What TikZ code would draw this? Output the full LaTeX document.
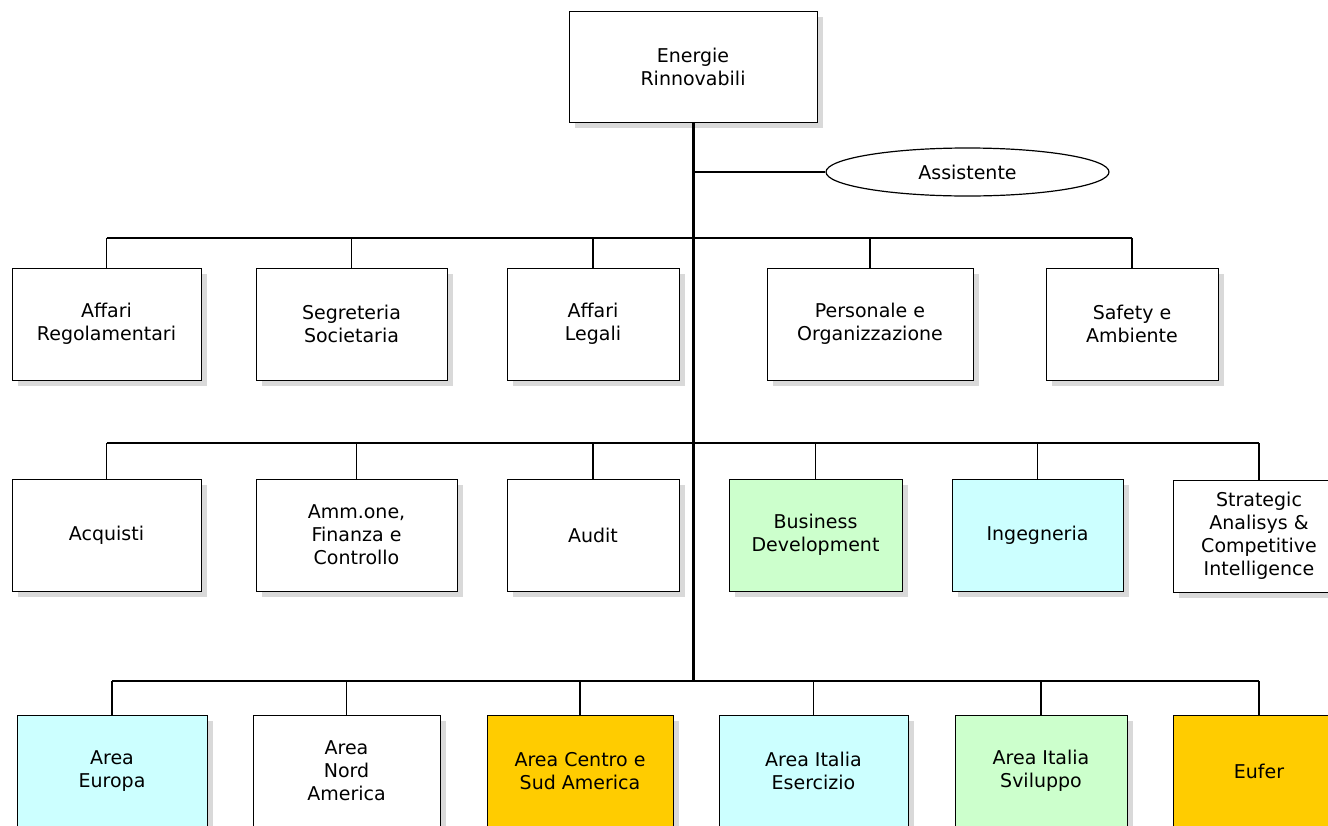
\documentclass[tikz,border=0pt]{standalone}
\usepackage{fontspec}
\setmainfont{DejaVu Sans}
\usepackage{tikz}
\usetikzlibrary{shadows,shapes.geometric}
\definecolor{celeste}{HTML}{CCFFFF}
\definecolor{verdino}{HTML}{CCFFCC}
\definecolor{arancio}{HTML}{FFCC00}
\definecolor{ombra}{HTML}{D9D9D9}

\begin{document}
\begin{tikzpicture}[x=1pt,y=-1pt,
	unit/.style={draw, line width=1pt, fill=white, minimum height=112pt, align=center, inner sep=2pt,
		font=\fontsize{19}{23}\selectfont,
		drop shadow={shadow xshift=6pt, shadow yshift=-6pt, fill=ombra, opacity=1}},
	trunk/.style={line width=3pt},
	bus/.style={line width=1.6pt},
	link/.style={line width=1.2pt}]
	\clip (0,0) rectangle (1328,825);
	\fill[white] (0,0) rectangle (1328,825);
	% vertice
	\node[unit, minimum width=248pt, minimum height=111pt] (ER) at (693,66.5) {Energie\\Rinnovabili};
	\node[ellipse, draw, line width=1.2pt, fill=white, minimum width=283pt, minimum height=48pt,
		font=\fontsize{19}{23}\selectfont] (AS) at (967.5,172) {Assistente};
	% staff
	\node[unit, minimum width=189pt] (AR) at (106.5,324) {Affari\\Regolamentari};
	\node[unit, minimum width=191pt] (SS) at (351.5,324) {Segreteria\\Societaria};
	\node[unit, minimum width=172pt] (AL) at (593,324) {Affari\\Legali};
	\node[unit, minimum width=206pt] (PO) at (870,324) {Personale e\\Organizzazione};
	\node[unit, minimum width=172pt] (SA) at (1132,324) {Safety e\\Ambiente};
	% funzioni
	\node[unit, minimum width=189pt] (ACQ) at (106.5,535) {Acquisti};
	\node[unit, minimum width=201pt] (AFC) at (356.5,535) {Amm.one,\\Finanza e\\Controllo};
	\node[unit, minimum width=172pt] (AUD) at (593,535) {Audit};
	\node[unit, minimum width=173pt, fill=verdino] (BD) at (815.5,535) {Business\\Development};
	\node[unit, minimum width=171pt, fill=celeste] (ING) at (1037.5,535) {Ingegneria};
	\node[unit, minimum width=172pt] (SCI) at (1259,536) {Strategic\\Analisys \&\\Competitive\\Intelligence};
	% aree
	\node[unit, minimum width=190pt, fill=celeste] (EU) at (112,771) {Area\\Europa};
	\node[unit, minimum width=187pt] (NA) at (346.5,771) {Area\\Nord\\America};
	\node[unit, minimum width=186pt, fill=arancio] (CSA) at (580,771) {Area Centro e\\Sud America};
	\node[unit, minimum width=189pt, fill=celeste] (IE) at (813.5,771) {Area Italia\\Esercizio};
	\node[unit, minimum width=172pt, fill=verdino] (IS) at (1041,771) {Area Italia\\Sviluppo};
	\node[unit, minimum width=172pt, fill=arancio] (EUF) at (1259,771) {Eufer};

	\coordinate (B1) at (693,238);
	\coordinate (B2) at (693,443);
	\coordinate (B3) at (693,681);

	\draw[trunk] (ER.south) -- (B3);
	\draw[link] (ER.south |- AS) -- (AS.west);

	\draw[bus] (AR.north |- B1) -- (SA.north |- B1);
	\foreach \n in {AR,SS,AL,PO,SA}
		\draw[link] (\n.north) -- (\n.north |- B1);
	\draw[bus] (ACQ.north |- B2) -- (SCI.north |- B2);
	\foreach \n in {ACQ,AFC,AUD,BD,ING,SCI}
		\draw[link] (\n.north) -- (\n.north |- B2);
	\draw[bus] (EU.north |- B3) -- (EUF.north |- B3);
	\foreach \n in {EU,NA,CSA,IE,IS,EUF}
		\draw[link] (\n.north) -- (\n.north |- B3);
\end{tikzpicture}
\end{document}
